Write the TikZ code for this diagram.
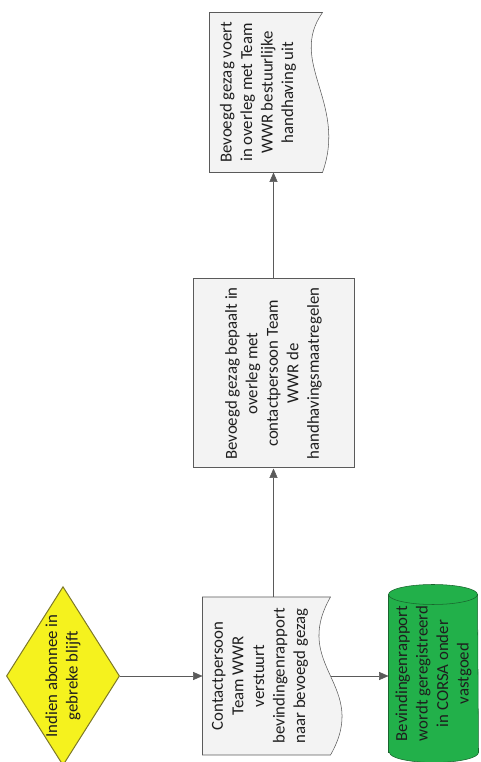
\documentclass[tikz,border=0pt]{standalone}
\usepackage{fontspec}
\setmainfont{Carlito}
\usetikzlibrary{shapes.geometric,arrows.meta}
\pgfdeclarelayer{bg}
\pgfsetlayers{bg,main}
\definecolor{lijn}{RGB}{90,90,90}
\definecolor{geel}{RGB}{245,242,30}
\definecolor{geelrand}{RGB}{125,120,40}
\definecolor{groen}{RGB}{34,176,74}
\definecolor{groenrand}{RGB}{25,100,45}
\definecolor{vlak}{RGB}{243,243,243}
\definecolor{tekst}{RGB}{30,30,30}

\begin{document}
\begin{tikzpicture}[x=0.75pt,y=0.75pt,line width=0.75pt,>={Triangle[length=7pt,width=6pt]},
  txt/.style={rotate=90,align=center,inner sep=0pt,text=tekst,font=\fontsize{12.6pt}{15.4pt}\selectfont},
  dec/.style={txt,diamond,aspect=1.58,draw=geelrand,fill=geel},
  box/.style={txt,rectangle,draw=lijn,fill=vlak},
  doc/.style={txt,rectangle},
  pijl/.style={draw=lijn,->}]
\useasboundingbox (0,0) rectangle (480,762);
% shapes
\node[dec,minimum width=130.5pt,minimum height=82.5pt] (abon) at (63,86) {Indien abonnee in\\gebreke blijft};
\node[doc,minimum width=117.75pt,minimum height=85.5pt] (rapp) at (260,86) {Contactpersoon\\Team WWR\\verstuurt\\bevindingenrapport\\naar bevoegd gezag};
\node[doc,minimum width=117.75pt,minimum height=66.75pt] (corsa) at (433.5,88.5) {Bevindingenrapport\\wordt geregistreerd\\in CORSA onder\\vastgoed};
\node[box,minimum width=141.75pt,minimum height=120.75pt] (maatr) at (273.5,388.5) {Bevoegd gezag bepaalt in\\overleg met\\contactpersoon Team\\WWR de\\handhavingsmaatregelen};
\node[doc,minimum width=119.25pt,minimum height=72pt] (handh) at (258,669.5) {Bevoegd gezag voert\\in overleg met Team\\WWR bestuurlijke\\handhaving uit};
% outlines behind the text
\begin{pgfonlayer}{bg}
\draw[draw=lijn,fill=vlak] (rapp.north west) -- (rapp.north east) -- ([xshift=9.75pt]rapp.south east)
  .. controls +(-40,-70) and +(40,70) .. ([xshift=9.75pt]rapp.south west) coordinate[pos=0.5] (rappw) -- cycle;
\draw[draw=lijn,fill=vlak] (handh.north west) -- (handh.north east) -- ([xshift=12pt]handh.south east)
  .. controls +(-35,-50) and +(25,70) .. ([xshift=12pt]handh.south west) -- cycle;
\draw[draw=groenrand,fill=groen] (corsa.north west) -- (corsa.north east)
  arc[start angle=180,end angle=0,x radius=33.375pt,y radius=7.5pt] -- (corsa.south west)
  arc[start angle=0,end angle=-180,x radius=33.375pt,y radius=7.5pt] -- cycle;
\draw[draw=groenrand] (corsa.north east) arc[start angle=180,end angle=360,x radius=33.375pt,y radius=7.5pt];
\end{pgfonlayer}
% connectors
\draw[pijl] (abon.south) -- (abon.south -| rapp.north);
\draw[pijl] (rappw) -- (rappw -| corsa.north);
\draw[pijl] (rapp.east -| maatr.west) -- (maatr.west);
\draw[pijl] (maatr.east) -- (maatr.east |- handh.west);
\end{tikzpicture}
\end{document}
